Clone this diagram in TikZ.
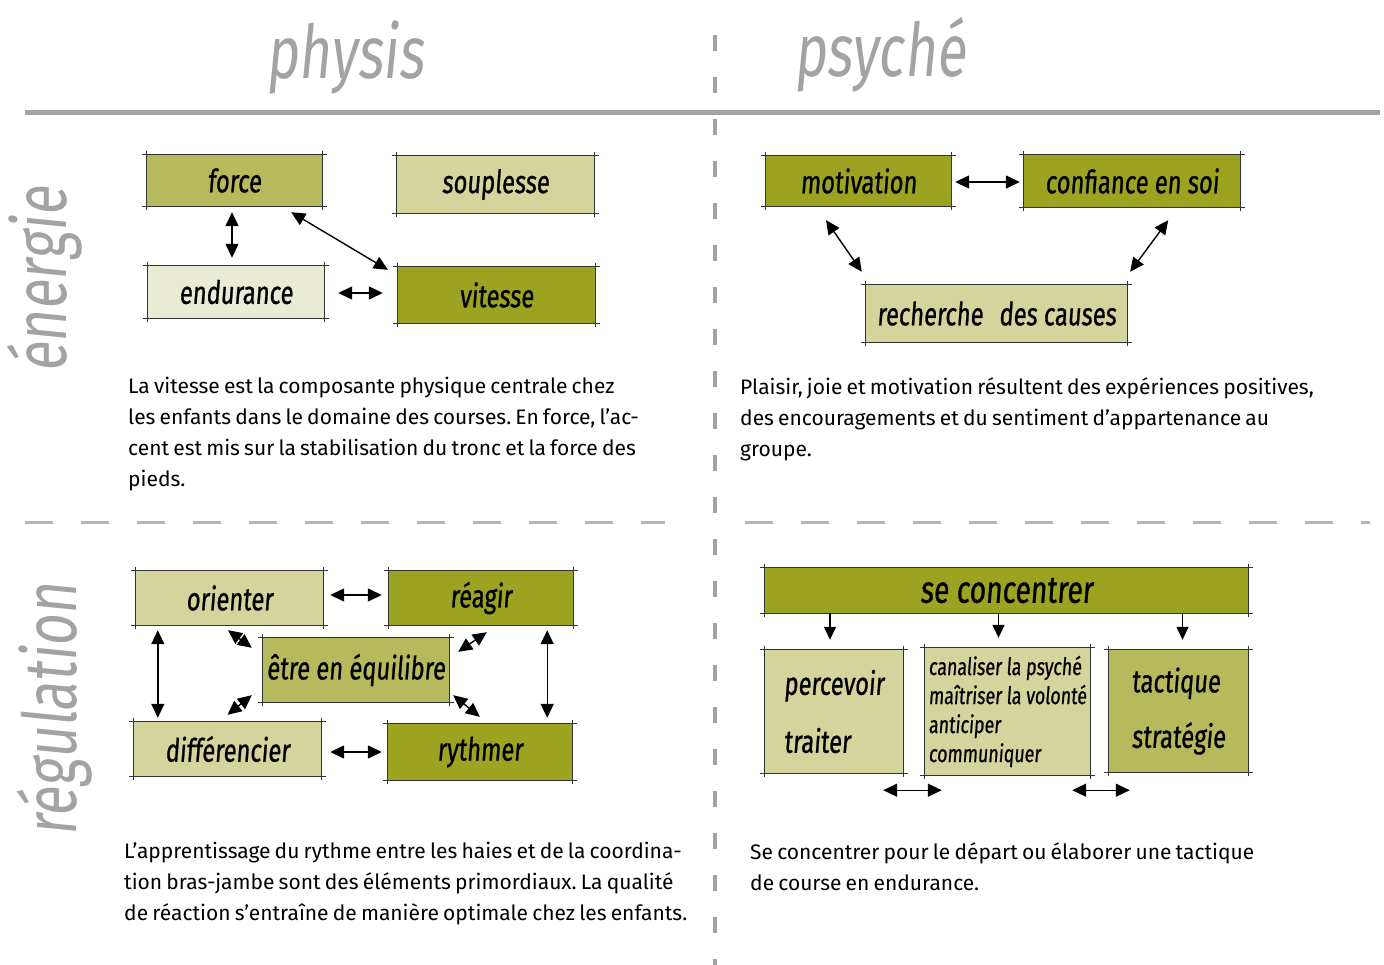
\documentclass[tikz,border=0pt]{standalone}
\usepackage{fontspec}
\setmainfont{Fira Sans}[WordSpace=0.75]
\newfontfamily\hand[FakeStretch=0.74,FakeSlant=0.08,FakeBold=0.8]{Fira Sans}
\newfontfamily\headhand[FakeStretch=0.74,FakeSlant=0.1]{Fira Sans}
\usetikzlibrary{arrows.meta}
\frenchspacing

\definecolor{oliveA}{HTML}{9CA321}
\definecolor{oliveB}{HTML}{B7BA5C}
\definecolor{oliveC}{HTML}{D3D59D}
\definecolor{oliveD}{HTML}{E9EBD5}
\definecolor{rulegray}{HTML}{A3A3A3}

\tikzset{
  box/.style={inner sep=0pt, font=\hand\fontsize{32}{32}\selectfont},
  boxline/.style={draw=black!80, line width=1pt},
  dub/.style={{Triangle[length=14pt,width=13pt]}-{Triangle[length=14pt,width=13pt]}, line width=1.4pt},
  down/.style={-{Triangle[length=13pt,width=12pt]}, line width=1.4pt},
  head/.style={text=rulegray, font=\headhand\fontsize{74}{74}\selectfont},
  para/.style={anchor=north west, align=left, inner sep=0pt, font=\fontsize{21}{31}\selectfont}
}

\newcommand{\sketchframe}[1]{%
  \draw[boxline] ([xshift=-5pt]#1.north west) -- ([xshift=5pt]#1.north east)
    ([xshift=-5pt]#1.south west) -- ([xshift=5pt]#1.south east)
    ([yshift=4pt]#1.north west) -- ([yshift=-4pt]#1.south west)
    ([yshift=4pt]#1.north east) -- ([yshift=-4pt]#1.south east);}

\begin{document}
\begin{tikzpicture}[x=1pt, y=-1pt]

  \useasboundingbox (0,0) rectangle (1384,965);

  \draw[rulegray, line width=5pt] (25,113) -- (1380,113);
  \draw[rulegray, line width=3.5pt, dash pattern=on 16pt off 26pt] (715,35) -- (715,965);
  \draw[rulegray!80, line width=3pt, dash pattern=on 28pt off 28pt] (25,522) -- (665,522);
  \draw[rulegray!80, line width=3pt, dash pattern=on 28pt off 28pt] (745,522) -- (1370,522);

  \node[head] (physis) at (345,58) {physis};
  \node[head] (psyche) at (880,55) {psyché};
  \node[head, rotate=90] (energie) at (45,280) {énergie};
  \node[head, rotate=90] (regulation) at (55,710) {régulation};

  \foreach \n/\x/\y/\w/\h/\c/\t in {
    force/234.5/180.5/175/51/oliveB/force,
    souplesse/495.5/184.5/197/57/oliveC/souplesse,
    endurance/236/292/176/52/oliveD/endurance,
    vitesse/496.5/295/197/56/oliveA/vitesse,
    motivation/858.5/181/185/50/oliveA/motivation,
    confiance/1132/181/216/52/oliveA/confiance en soi,
    recherche/996.5/313.5/261/57/oliveC/recherche\enspace des causes,
    orienter/229.5/598/187/54/oliveC/orienter,
    reagir/481/598/184/54/oliveA/réagir,
    equilibre/356/670/186/64/oliveB/être en équilibre,
    differencier/227.5/749/187/54/oliveC/différencier,
    rythmer/480/752/184/56/oliveA/rythmer}
  {
    \node[box, fill=\c, minimum width=\w, minimum height=\h] (\n) at (\x,\y) {\t};
    \sketchframe{\n}
  }

  \node[box, fill=oliveA, minimum width=483, minimum height=45,
        font=\hand\fontsize{38}{38}\selectfont] (concentrer) at (1006.5,590.5) {se concentrer};
  \sketchframe{concentrer}
  \node[box, fill=oliveC, minimum width=138, minimum height=123, align=left]
    (percevoir) at (834,711.5) {percevoir\\[26pt]traiter};
  \sketchframe{percevoir}
  \node[box, fill=oliveC, minimum width=165, minimum height=127, align=left,
        font=\hand\fontsize{24}{29}\selectfont] (canaliser) at (1007.5,711.5)
    {canaliser la psyché\\maîtriser la volonté\\anticiper\\communiquer};
  \sketchframe{canaliser}
  \node[box, fill=oliveB, minimum width=139, minimum height=122, align=left]
    (tactique) at (1178.5,711) {tactique\\[22pt]stratégie};
  \sketchframe{tactique}

  \foreach \a/\p/\b/\q in {
    force.south/{(-2.5,6)}/endurance.north/{(-4,-8)},
    force.south east/{(-31,6)}/vitesse.north west/{(-10,3)},
    endurance.east/{(14,1)}/vitesse.west/{(-15,-2)},
    motivation.east/{(4,1)}/confiance.west/{(-4,1)},
    motivation.south/{(-32.5,14)}/recherche.north west/{(-4,-13)},
    confiance.south east/{(-72,13)}/recherche.north east/{(3,-13)},
    orienter.east/{(7,-3)}/reagir.west/{(-7,-3)},
    differencier.east/{(9,3)}/rythmer.west/{(-6,0)},
    orienter.south west/{(22,5)}/differencier.north west/{(24,-4)},
    reagir.south east/{(-26,5)}/rythmer.north east/{(-25,-6)},
    orienter.south/{(-1.5,5)}/equilibre.north west/{(-11,10)},
    differencier.north/{(0,-7)}/equilibre.south west/{(-11,-7)},
    reagir.south west/{(98,7)}/equilibre.north east/{(9,14)},
    equilibre.south east/{(4,-7)}/rythmer.north west/{(92,-7)},
    percevoir.south east/{(-20,17)}/canaliser.south west/{(17,15)},
    canaliser.south east/{(-18,15)}/tactique.south west/{(21,18)}}
    \draw[dub] ([shift={\p}]\a) -- ([shift={\q}]\b);

  \foreach \b/\s in {percevoir/-4, canaliser/-9, tactique/4}
    \draw[down] ([xshift=\s pt]\b.north |- concentrer.south) -- ([xshift=\s pt, yshift=10pt]\b.north);

  \node[para] (textA) at (128,377) {La vitesse est la composante physique centrale chez\\
    les enfants dans le domaine des courses. En force, l’ac-\\
    cent est mis sur la stabilisation du tronc et la force des\\
    pieds.};
  \node[para] (textB) at (740,377) {Plaisir, joie et motivation résultent des expériences positives,\\
    des encouragements et du sentiment d’appartenance au\\
    groupe.};
  \node[para] (textC) at (124,842) {L’apprentissage du rythme entre les haies et de la coordina-\\
    tion bras-jambe sont des éléments primordiaux. La qualité\\
    de réaction s’entraîne de manière optimale chez les enfants.};
  \node[para] (textD) at (750,842) {Se concentrer pour le départ ou élaborer une tactique\\
    de course en endurance.};

\end{tikzpicture}
\end{document}
